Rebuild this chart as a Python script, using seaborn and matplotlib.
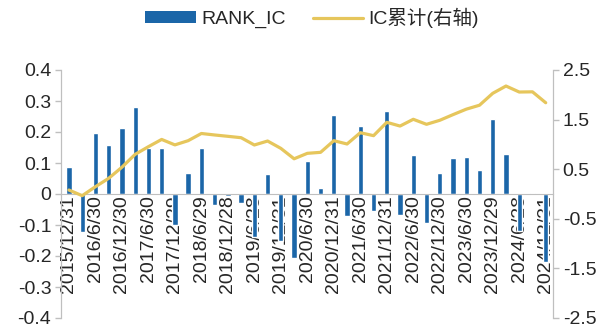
import matplotlib
matplotlib.use("Agg")
import matplotlib.pyplot as plt
import seaborn as sns
import numpy as np
import pandas as pd
from matplotlib.patches import Patch
from matplotlib.lines import Line2D

dates = ["2015/12/31", "2016/3/31", "2016/6/30", "2016/9/30", "2016/12/30",
         "2017/3/31", "2017/6/30", "2017/9/29", "2017/12/29", "2018/3/30",
         "2018/6/29", "2018/9/28", "2018/12/28", "2019/3/29", "2019/6/28",
         "2019/9/30", "2019/12/31", "2020/3/31", "2020/6/30", "2020/9/30",
         "2020/12/31", "2021/3/31", "2021/6/30", "2021/9/30", "2021/12/31",
         "2022/3/31", "2022/6/30", "2022/9/30", "2022/12/30", "2023/3/31",
         "2023/6/30", "2023/9/28", "2023/12/29", "2024/3/29", "2024/6/28",
         "2024/9/30", "2024/12/31"]

rank_ic = [0.087, -0.123, 0.197, 0.159, 0.213, 0.281, 0.148, 0.147, -0.10, 0.068,
           0.147, -0.035, -0.008, -0.028, -0.14, 0.066, -0.15, -0.205, 0.108, 0.018,
           0.254, -0.07, 0.218, -0.055, 0.269, -0.068, 0.127, -0.094, 0.068, 0.117,
           0.12, 0.078, 0.242, 0.129, -0.12, 0.004, -0.22]

ic_cum = [0.08, -0.034, 0.147, 0.316, 0.54, 0.80, 0.954, 1.10, 0.99, 1.075,
          1.22, 1.19, 1.163, 1.135, 0.988, 1.068, 0.92, 0.71, 0.82, 0.84,
          1.075, 1.008, 1.236, 1.176, 1.445, 1.37, 1.506, 1.405, 1.486, 1.60,
          1.71, 1.79, 2.03, 2.177, 2.056, 2.06, 1.84]

left_ticks = [0.4, 0.3, 0.2, 0.1, 0, -0.1, -0.2, -0.3, -0.4]
left_labels = ["0.4", "0.3", "0.2", "0.1", "0", "-0.1", "-0.2", "-0.3", "-0.4"]
right_ticks = [2.5, 1.5, 0.5, -0.5, -1.5, -2.5]
right_labels = ["2.5", "1.5", "0.5", "-0.5", "-1.5", "-2.5"]

bar_name = "RANK_IC"
line_name = "IC累计(右轴)"

sns.set_style("white")
plt.rcParams["font.family"] = ["Liberation Sans", "Noto Sans CJK SC", "DejaVu Sans"]

BLUE = "#1B66A8"
GOLD = "#E6C65C"
GRAY = "#BFBFBF"
FS = 14

df = pd.DataFrame({"date": dates, "rank_ic": rank_ic, "ic_cum": ic_cum})

fig = plt.figure(figsize=(6.12, 3.36), dpi=100)
ax = fig.add_axes([61 / 612, 18 / 336, (553 - 61) / 612, (318 - 70) / 336])

sns.barplot(data=df, x="date", y="rank_ic", color=BLUE, saturation=1,
            width=0.4, ax=ax)
ax.set_xlim(-0.6, len(dates) - 1 + 0.55)
ax.set_ylim(-0.4, 0.4)
ax.set_xlabel("")
ax.set_ylabel("")

ax2 = ax.twinx()
sns.lineplot(x=np.arange(len(dates)), y=df["ic_cum"], color=GOLD, lw=2.3,
             ax=ax2, sort=False)
ax2.set_ylim(-2.5, 2.5)
ax2.set_ylabel("")

ax.tick_params(axis="x", length=0, pad=1, labelrotation=90, labelsize=FS)
ax.tick_params(axis="y", direction="out", length=4, width=1, color=GRAY,
               pad=3, labelsize=FS)
ax2.tick_params(axis="y", direction="out", length=4, width=1, color=GRAY,
                pad=3, labelsize=FS)

ax.set_yticks(left_ticks)
ax.set_yticklabels(left_labels)
ax2.set_yticks(right_ticks)
ax2.set_yticklabels(right_labels)

pos = np.arange(len(dates))
ax.set_xticks(pos[::2])
ax.set_xticklabels(dates[::2])
for t in ax.get_xticklabels():
    t.set_rotation(90)
    t.set_va("top")
    t.set_ha("center")
    t.set_fontsize(FS)

for a in (ax, ax2):
    a.spines["top"].set_visible(False)
    a.spines["left"].set_color(GRAY)
    a.spines["right"].set_color(GRAY)
ax.spines["bottom"].set_position(("data", 0))
ax.spines["bottom"].set_color(GRAY)
ax2.spines["bottom"].set_visible(False)
ax.grid(False)
ax2.grid(False)

handles = [Patch(facecolor=BLUE, edgecolor="none"),
           Line2D([0], [0], color=GOLD, lw=2.3)]
fig.legend(handles, [bar_name, line_name], loc="center",
           bbox_to_anchor=(312 / 612, 1 - 18 / 336), ncol=2, frameon=False,
           fontsize=FS, handlelength=2.6, handleheight=0.6, handletextpad=0.25,
           columnspacing=1.4)

fig.savefig("out.png", dpi=100)
